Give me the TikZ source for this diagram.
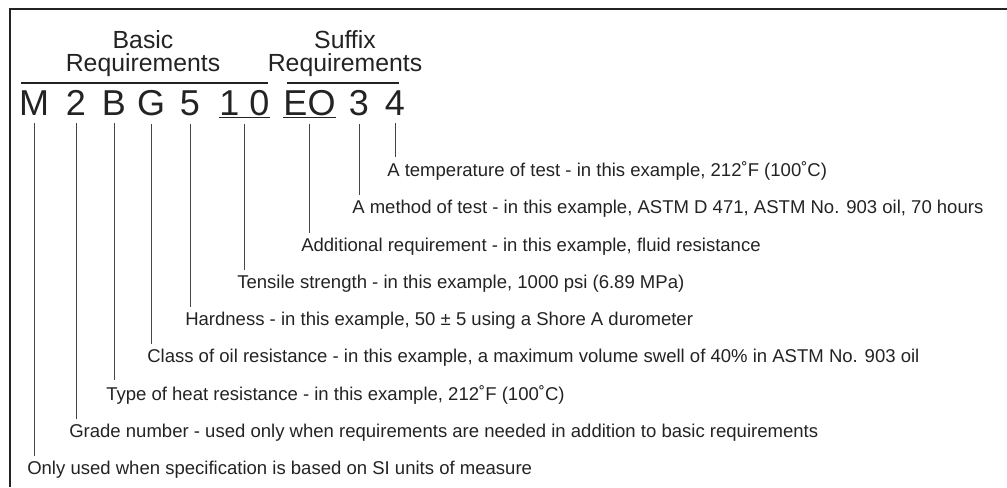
\documentclass[tikz,border=0pt]{standalone}
\usepackage{fontspec}
\setmainfont{Liberation Sans}
\usetikzlibrary{positioning}
\definecolor{inkgray}{RGB}{35, 35, 35}
\definecolor{leadgray}{RGB}{70, 70, 70}

\begin{document}
\begin{tikzpicture}[x=0.75pt, y=-0.75pt,
    code/.style={inner sep=0pt, anchor=base, font=\fontsize{27}{30}\selectfont, text=inkgray},
    head/.style={inner sep=0pt, anchor=base, font=\fontsize{18.6}{20}\selectfont, text=inkgray},
    desc/.style={anchor=base west, inner xsep=0pt, inner ysep=3.5pt,
                 font=\fontsize{13.9}{16}\selectfont, text=inkgray},
    leader/.style={draw=leadgray, line width=0.75pt},
    rule/.style={draw=inkgray, line width=0.9pt}
]
    \useasboundingbox (0,0) rectangle (1007,487);
    % frame
    \draw[rule, line width=1.1pt] (10,487) -- (10,9) -- (1007,9);

    % headings
    \node[head] (basictop) at (143,48) {Basic};
    \node[head] (basicreq) at (143,71) {Requirements};
    \node[head] (suffixtop) at (345,48) {Suffix};
    \node[head] (suffixreq) at (345,71) {Requirements};
    \draw[rule] (21,83) -- (268,83);
    \draw[rule] (287,83) -- (399,83);

    % designation
    \node[code] (m) at (34,115) {M};
    \node[code] (two) at (76,115) {2};
    \node[code] (b) at (114,115) {B};
    \node[code] (g) at (151,115) {G};
    \node[code] (five) at (190,115) {5};
    \node[code] (ten) at (244.5,115) {1 0};
    \node[code] (eo) at (309.5,115) {EO};
    \node[code] (three) at (359,115) {3};
    \node[code] (four) at (395,115) {4};
    \draw[rule] ([yshift=-1.5pt]ten.south west) -- ([yshift=-1.5pt]ten.south east);
    \draw[rule] ([yshift=-1.5pt]eo.south west) -- ([yshift=-1.5pt]eo.south east);

    % descriptions
    \node[desc] (lblfour) at (387,176.5) {A temperature of test - in this example, 212˚F (100˚C)};
    \node[desc] (lblthree) at (352,213.5) {A method of test - in this example, ASTM D 471, ASTM No. 903 oil, 70 hours};
    \node[desc] (lbleo) at (301,251) {Additional requirement - in this example, fluid resistance};
    \node[desc] (lblten) at (237,288) {Tensile strength - in this example, 1000 psi (6.89 MPa)};
    \node[desc] (lblfive) at (185,325.5) {Hardness - in this example, 50 ± 5 using a Shore A durometer};
    \node[desc] (lblg) at (147,362.5) {Class of oil resistance - in this example, a maximum volume swell of 40\% in ASTM No. 903 oil};
    \node[desc] (lblb) at (106,400) {Type of heat resistance - in this example, 212˚F (100˚C)};
    \node[desc] (lbltwo) at (69,437) {Grade number - used only when requirements are needed in addition to basic requirements};
    \node[desc] (lblm) at (27,474.5) {Only used when specification is based on SI units of measure};

    % leaders
    \draw[leader] ([yshift=-6pt]m.south) -- (m |- lblm.north);
    \draw[leader] ([yshift=-6pt]two.south) -- (two |- lbltwo.north);
    \draw[leader] ([yshift=-6pt]b.south) -- (b |- lblb.north);
    \draw[leader] ([yshift=-6pt]g.south) -- (g |- lblg.north);
    \draw[leader] ([yshift=-6pt]five.south) -- (five |- lblfive.north);
    \draw[leader] ([yshift=-6pt]ten.south) -- (ten |- lblten.north);
    \draw[leader] ([yshift=-6pt]eo.south) -- (eo |- lbleo.north);
    \draw[leader] ([yshift=-6pt]three.south) -- (three |- lblthree.north);
    \draw[leader] ([yshift=-6pt]four.south) -- (four |- lblfour.north);
\end{tikzpicture}
\end{document}
